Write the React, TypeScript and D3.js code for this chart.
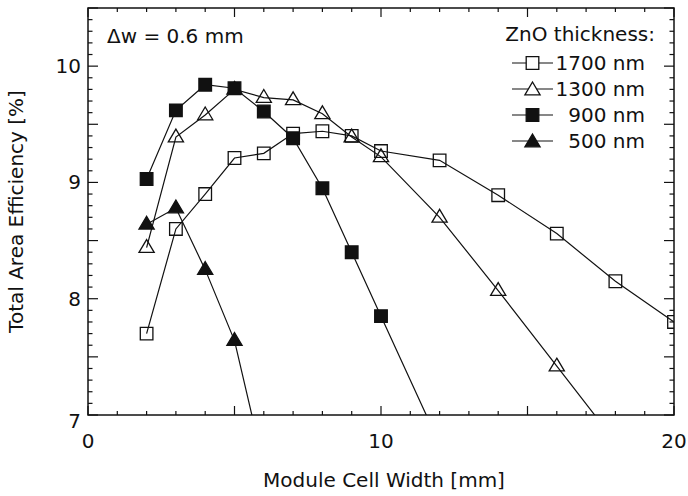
import React from "react";
import * as d3 from "d3";

const xValues1700 = [2, 3, 4, 5, 6, 7, 8, 9, 10, 12, 14, 16, 18, 20];
const y1700 = [7.7, 8.6, 8.9, 9.21, 9.25, 9.42, 9.44, 9.4, 9.27, 9.19, 8.89, 8.56, 8.15, 7.8];
const xValues1300 = [2, 3, 4, 5, 6, 7, 8, 9, 10, 12, 14, 16, 18];
const y1300 = [8.44, 9.39, 9.58, 9.8, 9.73, 9.71, 9.59, 9.39, 9.22, 8.7, 8.07, 7.42, 6.77];
const xValues900 = [2, 3, 4, 5, 6, 7, 8, 9, 10, 12];
const y900 = [9.03, 9.62, 9.84, 9.81, 9.61, 9.38, 8.95, 8.4, 7.85, 6.75];
const xValues500 = [2, 3, 4, 5, 6];
const y500 = [8.64, 8.78, 8.25, 7.64, 6.56];

const seriesNames = ["1700 nm", "1300 nm", "900 nm", "500 nm"];
const legendTitle = "ZnO thickness:";
const annotation = "\u0394w = 0.6 mm";
const xTicks = [0, 10, 20];
const yTicks = [7, 8, 9, 10];
const xTitle = "Module Cell Width [mm]";
const yTitle = "Total Area Efficiency [%]";

const W = 688;
const H = 496;
const left = 88;
const right = 674;
const top = 8;
const bottom = 415;
const FONT = "'DejaVu Sans', sans-serif";

type Marker = "sq" | "tri";
const series = [
  { name: seriesNames[0], xs: xValues1700, ys: y1700, marker: "sq" as Marker, filled: false },
  { name: seriesNames[1], xs: xValues1300, ys: y1300, marker: "tri" as Marker, filled: false },
  { name: seriesNames[2], xs: xValues900, ys: y900, marker: "sq" as Marker, filled: true },
  { name: seriesNames[3], xs: xValues500, ys: y500, marker: "tri" as Marker, filled: true },
];

function markerPath(m: Marker, cx: number, cy: number) {
  if (m === "sq") {
    const s = 6.3;
    return `M${cx - s},${cy - s}H${cx + s}V${cy + s}H${cx - s}Z`;
  }
  const hw = 7.6;
  return `M${cx},${cy - 8}L${cx + hw},${cy + 4.8}L${cx - hw},${cy + 4.8}Z`;
}

export default function App() {
  const x = d3.scaleLinear().domain([0, 20]).range([left, right]);
  const y = d3.scaleLinear().domain([7, 10.5]).range([bottom, top]);
  const line = d3
    .line<[number, number]>()
    .x((d) => x(d[0]))
    .y((d) => y(d[1]));

  const xMinor = d3.range(0, 20.001, 1);
  const yMinor = d3.range(7, 10.501, 0.1).map((v) => Math.round(v * 10) / 10);

  return (
    <svg width={W} height={H} style={{ position: "absolute", left: 0, top: 0, background: "#fff" }}>
      <defs>
        <clipPath id="plotclip">
          <rect x={left} y={top} width={right - left} height={bottom - top} />
        </clipPath>
      </defs>
      <rect x={0} y={0} width={W} height={H} fill="#fff" />
      <g stroke="#111" strokeWidth={1.2}>
        {xMinor.map((v) => {
          const len = v % 5 === 0 ? 9 : 4;
          return (
            <g key={"xt" + v}>
              <line x1={x(v)} x2={x(v)} y1={bottom} y2={bottom - len} />
              <line x1={x(v)} x2={x(v)} y1={top} y2={top + len} />
            </g>
          );
        })}
        {yMinor.map((v) => {
          const major = Math.abs(v * 2 - Math.round(v * 2)) < 1e-6;
          const len = major ? 10 : 4.5;
          return (
            <g key={"yt" + v}>
              <line x1={left} x2={left + len} y1={y(v)} y2={y(v)} />
              <line x1={right} x2={right - len} y1={y(v)} y2={y(v)} />
            </g>
          );
        })}
      </g>
      <g clipPath="url(#plotclip)">
        {series.map((s) => (
          <path
            key={"l" + s.name}
            d={line(s.xs.map((v, i) => [v, s.ys[i]] as [number, number])) || ""}
            fill="none"
            stroke="#111"
            strokeWidth={1.2}
          />
        ))}
        {series.map((s) =>
          s.xs.map((v, i) => (
            <path
              key={"m" + s.name + i}
              d={markerPath(s.marker, x(v), y(s.ys[i]))}
              fill={s.filled ? "#111" : "none"}
              stroke="#111"
              strokeWidth={1.3}
            />
          ))
        )}
      </g>
      <rect x={left} y={top} width={right - left} height={bottom - top} fill="none" stroke="#111" strokeWidth={1.5} />
      <g fontFamily={FONT} fontSize={20} fill="#111">
        {xTicks.map((v) => (
          <text key={"xl" + v} x={x(v)} y={448} textAnchor="middle">
            {v}
          </text>
        ))}
        {yTicks.map((v) => (
          <text key={"yl" + v} x={81} y={y(v) + (v === 7 ? 13 : 7)} textAnchor="end">
            {v}
          </text>
        ))}
        <text x={(left + right) / 2 + 3} y={487} textAnchor="middle">
          {xTitle}
        </text>
        <text transform={`translate(23,${(top + bottom) / 2}) rotate(-90)`} textAnchor="middle">
          {yTitle}
        </text>
        <text x={107} y={43}>
          {annotation}
        </text>
        <text x={655} y={41} textAnchor="end">
          {legendTitle}
        </text>
        {series.map((s, i) => {
          const cy = 63 + i * 26;
          return (
            <g key={"lg" + s.name}>
              <line x1={512} x2={553} y1={cy} y2={cy} stroke="#111" strokeWidth={1.2} />
              <path
                d={markerPath(s.marker, 532.5, cy + (s.marker === "tri" ? 1 : 0))}
                fill={s.filled ? "#111" : "#fff"}
                stroke="#111"
                strokeWidth={1.3}
              />
              <text x={645} y={cy + 7} textAnchor="end">
                {s.name}
              </text>
            </g>
          );
        })}
      </g>
    </svg>
  );
}
